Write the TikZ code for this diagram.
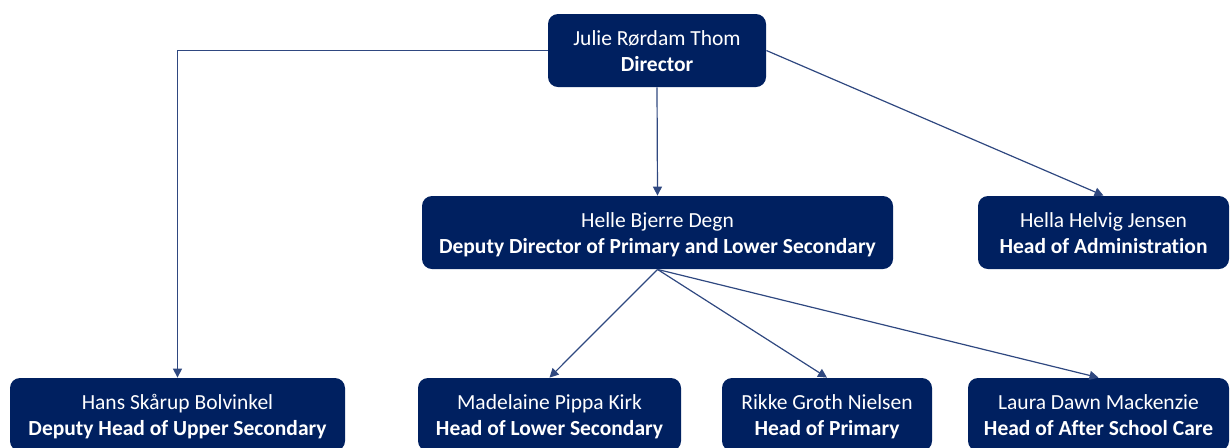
\documentclass[tikz,border=0pt]{standalone}
\usepackage{fontspec}
\setmainfont{Carlito}[Ligatures=NoCommon]
\usepackage{tikz}
\usetikzlibrary{arrows.meta}

\definecolor{boxblue}{RGB}{0,32,96}
\definecolor{lineblue}{RGB}{47,72,128}

\newcommand{\who}[2]{\rule{0pt}{12.1pt}#1\strut\\\textbf{#2}\strut}

\tikzset{
  person/.style={rectangle, rounded corners=5pt, fill=boxblue, text=white, align=center,
    minimum height=36.5pt, inner sep=0pt, font=\fontsize{10.75}{13}\selectfont},
  link/.style={draw=lineblue, line width=0.6pt, -{Triangle[width=4.5pt,length=4.5pt]}}
}

\begin{document}
\begin{tikzpicture}[x=0.5pt, y=-0.5pt]
                    \useasboundingbox (0,0) rectangle (1231,447);
                    \node[person, minimum width=109pt] (dir) at (657, 50.5) {\who{Julie Rørdam Thom}{Director}};
                    \node[person, minimum width=235.5pt] (deputy) at (657.5, 232.5) {\who{Helle Bjerre Degn}{Deputy Director of Primary and Lower Secondary}};
                    \node[person, minimum width=125.5pt] (admin) at (1103.5, 232.5) {\who{Hella Helvig Jensen}{Head of Administration}};
                    \node[person, minimum width=167.5pt] (upper) at (177.5, 414.5) {\who{Hans Skårup Bolvinkel}{Deputy Head of Upper Secondary}};
                    \node[person, minimum width=131.5pt] (lower) at (549.5, 414.5) {\who{Madelaine Pippa Kirk}{Head of Lower Secondary}};
                    \node[person, minimum width=105pt] (primary) at (827, 414.5) {\who{Rikke Groth Nielsen}{Head of Primary}};
                    \node[person, minimum width=130.5pt] (care) at (1098.5, 414.5) {\who{Laura Dawn Mackenzie}{Head of After School Care}};
                    \draw[link] (dir.west) -| (upper.north);
                    \draw[link] (dir.south) -- (deputy.north);
                    \draw[link] (dir.east) -- (admin.north);
                    \draw[link] (deputy.south) -- (lower.north);
                    \draw[link] (deputy.south) -- (primary.north);
                    \draw[link] (deputy.south) -- (care.north);
                \end{tikzpicture}
\end{document}
